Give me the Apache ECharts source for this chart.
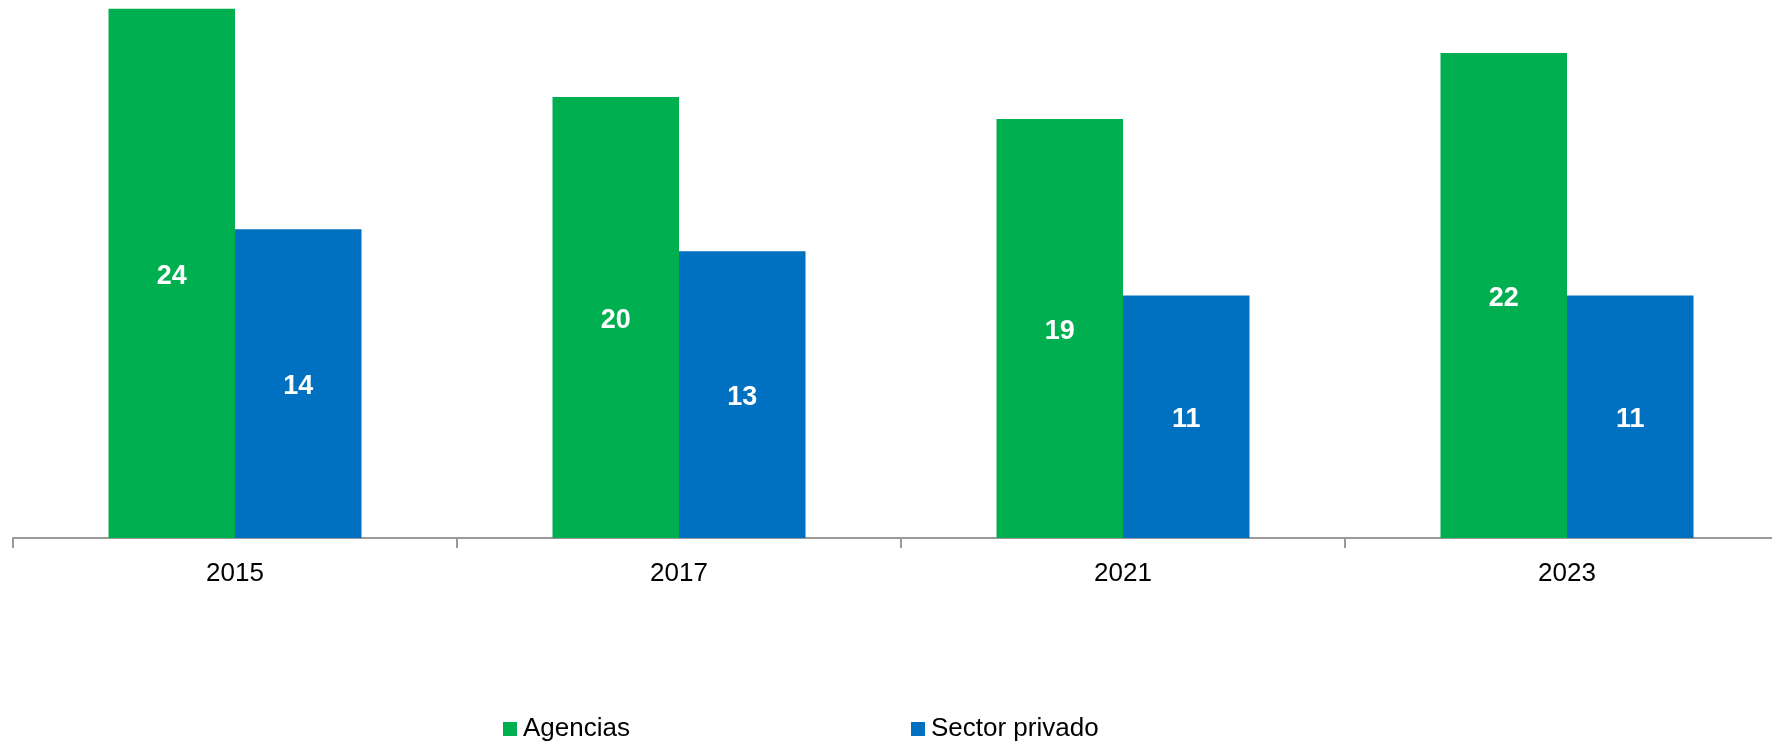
<!DOCTYPE html>
<html>
<head>
<meta charset="utf-8">
<script src="https://cdn.jsdelivr.net/npm/echarts@6/dist/echarts.min.js"></script>
<style>
  html, body { margin: 0; padding: 0; background: #ffffff; overflow: hidden; }
  /* the plot runs past the right edge of the window, so the canvas is a bit wider */
  #chart { width: 1792px; height: 741px; }
</style>
</head>
<body>
<div id="chart"></div>
<script>
// Years on the category axis
const years = ['2015', '2017', '2021', '2023'];
// Values per series
const agencias = [24, 20, 19, 22];
const sectorPrivado = [14, 13, 11, 11];
const seriesNames = ['Agencias', 'Sector privado'];

const GREEN = '#00AF50';
const BLUE = '#0070C0';
const FONT = '"Liberation Sans", Arial, sans-serif';

const chart = echarts.init(document.getElementById('chart'), null, { renderer: 'canvas' });

const valueLabel = {
  show: true,
  position: 'inside',
  offset: [0, 3],
  color: '#ffffff',
  fontFamily: FONT,
  fontWeight: 'bold',
  fontSize: 27
};

const legendText = { color: '#000000', fontFamily: FONT, fontSize: 26, padding: [0, 0, 0, 1] };

chart.setOption({
  animation: false,
  backgroundColor: '#ffffff',
  grid: { left: 13, top: 0, width: 1776, height: 538, containLabel: false },
  legend: [
    {
      data: [seriesNames[0]],
      left: 503, top: 716, padding: 0,
      itemWidth: 14, itemHeight: 14,
      icon: 'rect',
      textStyle: legendText
    },
    {
      data: [seriesNames[1]],
      left: 911, top: 716, padding: 0,
      itemWidth: 14, itemHeight: 14,
      icon: 'rect',
      textStyle: legendText
    }
  ],
  xAxis: {
    type: 'category',
    data: years,
    axisLine: { show: true, lineStyle: { color: '#9a9a9a', width: 2 } },
    axisTick: { show: true, length: 10, lineStyle: { color: '#9a9a9a', width: 2 } },
    axisLabel: { color: '#000000', fontFamily: FONT, fontSize: 26, margin: 23 },
    splitLine: { show: false }
  },
  yAxis: {
    type: 'value',
    min: 0,
    max: 24.4,
    show: false,
    splitLine: { show: false }
  },
  series: [
    {
      name: seriesNames[0],
      type: 'bar',
      data: agencias,
      barWidth: 126.5,
      barGap: '0%',
      itemStyle: { color: GREEN },
      label: valueLabel
    },
    {
      name: seriesNames[1],
      type: 'bar',
      data: sectorPrivado,
      barWidth: 126.5,
      barGap: '0%',
      itemStyle: { color: BLUE },
      label: valueLabel
    }
  ]
});
</script>
</body>
</html>
